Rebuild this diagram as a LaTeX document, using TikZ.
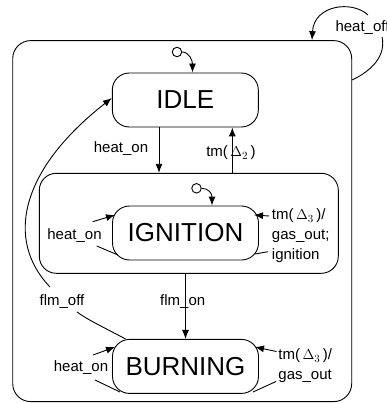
\documentclass[tikz,border=0pt]{standalone}
\usepackage{fontspec}
\setmainfont{Liberation Sans}
\usetikzlibrary{arrows.meta}
\begin{document}
\begin{tikzpicture}[x=1pt,y=-1pt,
  line width=0.9pt,
  state/.style={draw, rounded corners=17pt, minimum width=146pt, minimum height=54pt,
    inner sep=0pt, font=\fontsize{26}{30}\selectfont},
  super/.style={draw, rounded corners=17pt, inner sep=0pt},
  lbl/.style={inner sep=0pt, font=\fontsize{15}{20}\selectfont},
  arr/.style={-{Latex[length=9pt,width=7pt]}},
  init/.style={draw, circle, minimum size=9.5pt, inner sep=0pt}]
\useasboundingbox (0,0) rectangle (386,403);

% superstates
\node[super, minimum width=339pt, minimum height=361pt, rounded corners=18pt] (outer) at (182.2,221.1) {};
\node[super, minimum width=299pt, minimum height=100pt] (ignbox) at (188.8,223.3) {};

% basic states
\node[state] (idle) at (185.3,100) {IDLE};
\node[state] (ign)  at (185.5,233) {IGNITION};
\node[state] (burn) at (185.5,366.4) {BURNING};

% default entries
\node[init] (i1) at (177,52) {};
\draw[arr] (i1.east) .. controls +(7,0) and +(0,-12) .. ([xshift=7.2pt]idle.north);
\node[init] (i2) at (196.5,188.3) {};
\draw[arr] (i2.east) .. controls +(7,0) and +(0,-12) .. ([xshift=26.5pt]ign.north);

% labels
\node[lbl] (lhon1) at (121,149) {heat\_on};
\node[lbl] (ltm2) at (231,153) {tm(\,$\Delta_2$\,)};
\node[lbl] (lhon2) at (74.5,236) {heat\_on};
\node[lbl, align=left, anchor=west] (ltm3a) at (271.5,236) {tm(\,$\Delta_3$\,)/\\gas\_out;\\ignition};
\node[lbl] (lflmon) at (182.7,302) {flm\_on};
\node[lbl] (lflmoff) at (62,302) {flm\_off};
\node[lbl] (lhon3) at (81,368) {heat\_on};
\node[lbl, align=left, anchor=west] (ltm3b) at (278,366) {tm(\,$\Delta_3$\,)/\\gas\_out};
\node[lbl] (lhoff) at (362.5,28) {heat\_off};

% IDLE <-> IGNITION
\draw[arr] ([xshift=-26.3pt]idle.south) -- ([xshift=-26.3pt]idle.south |- ignbox.north);
\draw[arr] ([xshift=47pt]idle.south |- ignbox.north) -- ([xshift=47pt]idle.south);

% IGNITION -> BURNING
\draw[arr] (burn.north |- ignbox.south) -- (burn.north);

% BURNING -> IDLE
\coordinate (fo1) at (77,312);
\coordinate (fo2) at (50,287);
\draw ([xshift=-60pt]burn.north) .. controls (105,328) and (88,320) .. (fo1);
\draw[arr] (fo2) .. controls (5,240) and (20,170) .. ([yshift=2pt]idle.west);

% self loops on IGNITION
\coordinate (a1) at (92.7,221.7);
\coordinate (a2) at (96.7,246);
\coordinate (a3) at (269,216);
\coordinate (a4) at (268,251.7);
\draw[arr] (a1) -- (115,215);
\draw (118,255) -- (a2);
\draw[arr] (a3) -- (254,215);
\draw (255,254) -- (a4);

% self loops on BURNING
\coordinate (b1) at (93,355);
\coordinate (b2) at (95,380);
\coordinate (b3) at (276.5,351.5);
\coordinate (b4) at (276,381.5);
\draw[arr] (b1) -- (115,347);
\draw (120,392) -- (b2);
\draw[arr] (b3) -- (255,347);
\draw (253,392) -- (b4);

% heat_off loop on the outer superstate
\coordinate (h1) at (368,15);
\coordinate (h2) at (382,37);
\draw[arr] (h1) .. controls (352,0) and (314,5) .. (outer.north -| 312,0);
\draw (outer.east |- 0,80) .. controls (373,70) and (386,55) .. (h2);
\end{tikzpicture}
\end{document}
